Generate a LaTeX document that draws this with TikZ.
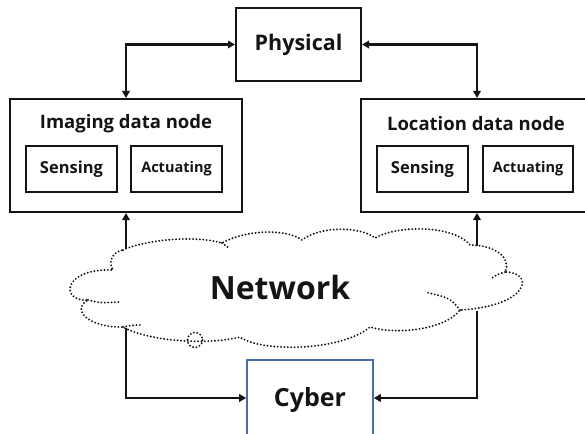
\documentclass[tikz,border=0pt]{standalone}
\usepackage{fontspec}
\setmainfont{Open Sans}[BoldFont={Open Sans Bold}]
\usetikzlibrary{arrows.meta}
\definecolor{ink}{HTML}{141414}
\definecolor{cyberblue}{HTML}{4A6EA9}
\tikzset{
  box/.style={draw=ink, line width=2pt, inner sep=0pt, fill=white},
  arr/.style={draw=ink, line width=2.6pt, -{Triangle[length=7pt,width=7.5pt]}},
  darr/.style={draw=ink, line width=2.6pt, {Triangle[length=7pt,width=7.5pt]}-{Triangle[length=7pt,width=7.5pt]}},
  dots/.style={draw=ink, line width=2.1pt, line cap=round, dash pattern=on 0pt off 3.4pt},
  lbl/.style={font=\bfseries, text=ink, inner sep=0pt},
}
\begin{document}
\begin{tikzpicture}[x=1pt,y=-1pt]
\useasboundingbox (0,0) rectangle (585,433);
% boxes
\node[box, minimum width=125pt, minimum height=73pt] (phys) at (298.5,44.5) {};
\node[lbl, font=\fontsize{21.5}{24}\bfseries\selectfont] (physt) at (298.5,44.5) {Physical};
\node[box, minimum width=232pt, minimum height=113pt] (img) at (126,155.5) {};
\node[box, minimum width=232pt, minimum height=113pt] (loc) at (477,155.5) {};
\node[lbl, font=\fontsize{18.5}{22}\bfseries\selectfont] (imgt) at (126,124) {Imaging data node};
\node[lbl, font=\fontsize{18.5}{22}\bfseries\selectfont] (loct) at (476,124) {Location data node};
\node[box, minimum width=91pt, minimum height=46pt] (sl) at (71.5,169) {};
\node[box, minimum width=91pt, minimum height=46pt] (al) at (176.5,169) {};
\node[box, minimum width=91pt, minimum height=46pt] (sr) at (422.5,169) {};
\node[box, minimum width=90pt, minimum height=46pt] (ar) at (528,169) {};
\node[lbl, font=\fontsize{16.5}{20}\bfseries\selectfont] at (sl) {Sensing};
\node[lbl, font=\fontsize{14.5}{18}\bfseries\selectfont] at (al) {Actuating};
\node[lbl, font=\fontsize{16.5}{20}\bfseries\selectfont] at (sr) {Sensing};
\node[lbl, font=\fontsize{14.5}{18}\bfseries\selectfont] at (ar) {Actuating};
\node[draw=cyberblue, line width=1.6pt, fill=white, minimum width=126pt, minimum height=76pt, inner sep=0pt] (cyb) at (310,398) {};
\node[lbl, font=\fontsize{25}{28}\bfseries\selectfont] at (310,400) {Cyber};
% cloud
\path[dots]
  (123,250) .. controls (150,238) and (200,236) .. (222,243)
  .. controls (245,230) and (285,228) .. (302,240)
  .. controls (320,226) and (360,226) .. (375,238)
  .. controls (400,224) and (455,226) .. (470,245)
  .. controls (495,245) and (512,258) .. (505,272)
  .. controls (535,272) and (530,306) .. (460,310)
  .. controls (445,330) and (395,335) .. (370,327)
  .. controls (340,352) and (260,352) .. (240,337)
  .. controls (210,345) and (150,342) .. (123,327)
  .. controls (90,328) and (70,310) .. (88,300)
  .. controls (60,302) and (62,268) .. (113,270)
  .. controls (108,262) and (112,252) .. cycle;
\path[dots] (88,300) .. controls (100,303) .. (120,302);
\path[dots] (505,272) .. controls (498,274) .. (492,278);
\path[dots] (460,310) .. controls (450,298) .. (425,292);
\path[dots] (123,327) .. controls (133,325) .. (143,325);
\path[dots] (222,243) .. controls (226,245) .. (229,248);
\path[dots] (195,340) circle (7.5);
\node[lbl, font=\fontsize{32}{36}\bfseries\selectfont] (net) at (280,287) {Network};
% connector anchors on the cloud
\coordinate (ctl) at (126,249);
\coordinate (ctr) at (477,246);
\coordinate (cbl) at (126,328);
\coordinate (cbr) at (477,311);
% connectors
\draw[darr] (img.north) |- (phys.west);
\draw[darr] (loc.north) |- (phys.east);
\draw[arr] (ctl) -- (img.south);
\draw[arr] (ctr) -- (loc.south);
\draw[arr] (cbl) |- (cyb.west);
\draw[arr] (cbr) |- (cyb.east);
\end{tikzpicture}
\end{document}
